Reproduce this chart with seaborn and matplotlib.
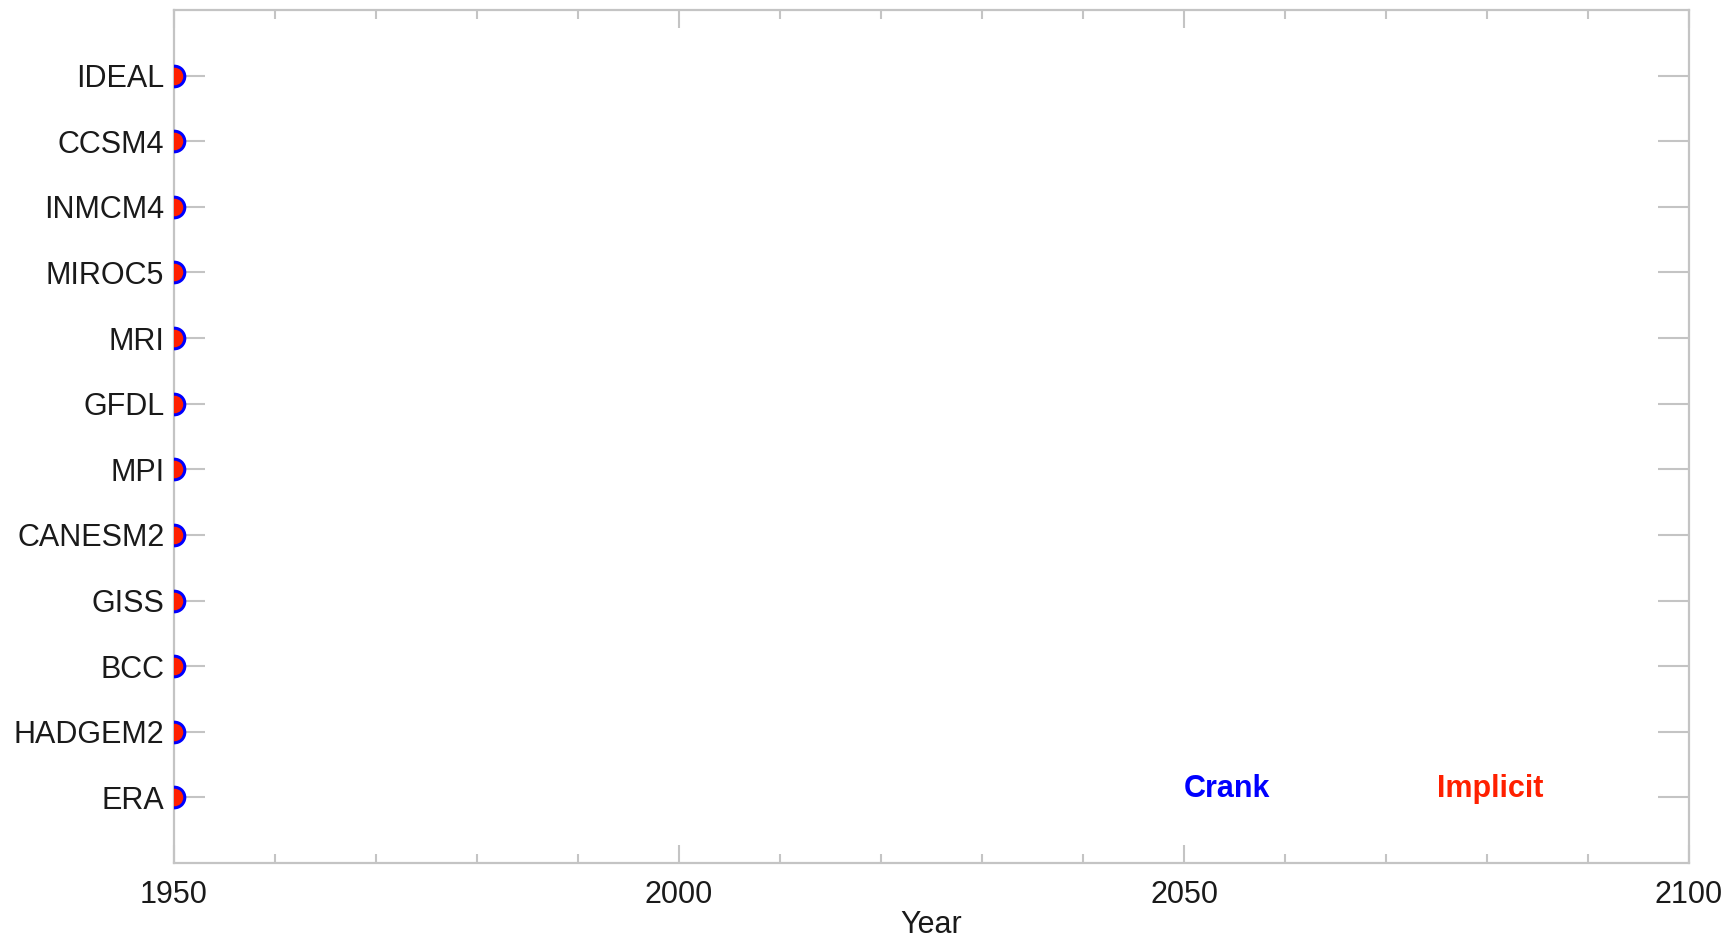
import matplotlib
matplotlib.use("Agg")
import matplotlib.pyplot as plt
import seaborn as sns
import pandas as pd
from matplotlib.ticker import MultipleLocator

models = ["ERA", "HADGEM2", "BCC", "GISS", "CANESM2", "MPI", "GFDL", "MRI",
          "MIROC5", "INMCM4", "CCSM4", "IDEAL"]
crank_year = [1950, 1950, 1950, 1950, 1950, 1950, 1950, 1950, 1950, 1950, 1950, 1950]
implicit_year = [1950, 1950, 1950, 1950, 1950, 1950, 1950, 1950, 1950, 1950, 1950, 1950]
x_ticks = [1950, 2000, 2050, 2100]

sns.set_theme(style="white")
plt.rcParams['font.family'] = ['Liberation Sans', 'DejaVu Sans']

grey = "#c4c4c4"
fig = plt.figure(figsize=(17.27, 9.38), dpi=100)
ax = fig.add_axes([174/1727, 1 - 863/938, (1689-174)/1727, (863-10)/938])

ypos = list(range(len(models)))
df = pd.DataFrame({"model": models, "y": ypos, "crank": crank_year, "implicit": implicit_year})

sns.scatterplot(data=df, x="crank", y="y", ax=ax, color="blue", s=290,
                linewidth=0, zorder=3, clip_on=True, legend=False)
sns.scatterplot(data=df, x="implicit", y="y", ax=ax, color="#ff2000", s=160,
                linewidth=0, zorder=4, clip_on=True, legend=False)

ax.set_xlim(1950, 2100)
ax.set_ylim(-1, len(models))
ax.set_xticks(x_ticks)
ax.set_xticklabels([str(t) for t in x_ticks])
ax.xaxis.set_minor_locator(MultipleLocator(10))
ax.set_yticks(ypos)
ax.set_yticklabels(models)

ax.tick_params(axis="x", which="major", direction="in", length=13, width=1.5,
               color=grey, top=True, bottom=True, labelsize=22, pad=12,
               labelcolor="#1a1a1a")
ax.tick_params(axis="x", which="minor", direction="in", length=6.5, width=1.5,
               color=grey, top=True, bottom=True)
ax.tick_params(axis="y", which="major", direction="in", length=22, width=1.5,
               color=grey, left=True, right=True, labelsize=22, pad=7,
               labelcolor="#1a1a1a")
for sp in ax.spines.values():
    sp.set_color(grey)
    sp.set_linewidth(1.6)

ax.set_xlabel("Year", fontsize=22, color="#1a1a1a", labelpad=0)
ax.set_ylabel("")

ax.text(2050, 0, "Crank", color="blue", fontsize=22, fontweight="bold",
        ha="left", va="baseline")
ax.text(2075, 0, "Implicit", color="#ff2000", fontsize=22, fontweight="bold",
        ha="left", va="baseline")

fig.savefig("out.png", dpi=100)
